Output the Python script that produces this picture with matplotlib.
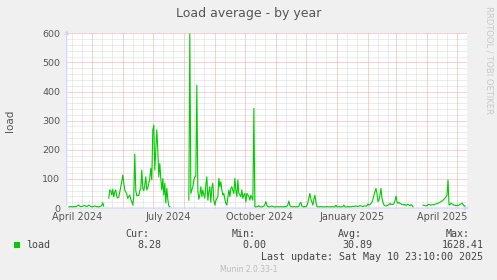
import pandas as pd
import matplotlib
matplotlib.use('Agg')
import matplotlib.pyplot as plt
from matplotlib.patches import Rectangle

# daily load averages, split where munin has no data
seg1_start = '2024-04-08'
seg1 = [4, 4, 5, 4, 4, 5, 4, 5, 6, 8, 10, 7, 5, 5, 6, 8, 9, 6, 5, 7,
        10, 8, 5, 4, 5, 6, 7, 6, 5, 4, 4, 5, 6, 9, 18, 6]

seg2_start = '2024-05-18'
seg2 = [34, 62, 60, 45, 64, 38, 55, 62, 40, 34, 38, 55, 73, 90, 113, 85, 62, 55, 48, 33,
        40, 44, 30, 22, 10, 40, 185, 60, 42, 44, 42, 60, 67, 130, 67, 60, 79, 107, 62, 70,
        85, 102, 136, 96, 268, 285, 130, 200, 268, 199, 107, 153, 100, 62, 101, 44, 85, 17, 68, 30,
        7, 4]

seg3_start = '2024-08-06'
seg3 = [27, 598, 50, 62, 73, 96, 107, 110, 422, 60, 30, 45, 73, 39, 62, 45, 34, 79, 107, 27,
        55, 73, 20, 70, 85, 27, 10, 25, 33, 39, 102, 73, 90, 62, 44, 50, 30, 16, 10, 35,
        62, 39, 67, 73, 60, 50, 102, 60, 39, 96, 50, 45, 39, 62, 33, 45, 50, 21, 50, 45,
        39, 27, 44, 35, 27, 342, 4,
        4, 4, 5, 8, 4, 4, 4, 5, 6,
        12, 22, 10, 5, 4, 4, 5, 7, 5, 4,
        4, 4, 4, 5, 4, 4, 5, 4, 4, 4,
        5, 4, 6, 12, 24, 8, 5, 4, 4, 5,
        4, 4, 5, 4, 6, 16, 19, 6, 4, 4,
        5, 4, 8, 20, 35, 50, 30, 20, 10, 30,
        44, 20, 5, 4, 4, 4, 5, 4, 4, 4,
        4, 4, 5, 4, 4, 4, 4, 5, 4, 4,
        4, 10, 4, 4, 5, 4, 4, 4, 5, 10,
        4, 4, 4, 5, 4, 4, 4, 5, 6, 5,
        6, 7, 6, 5, 6, 8, 7, 6, 5, 7,
        7, 6, 8, 14, 10, 12, 16, 20, 30, 45,
        56, 67, 50, 22, 27, 45, 67, 34, 20, 10,
        8, 7, 8, 10, 12, 16, 12, 14, 12, 15,
        25, 41, 22, 16, 19, 16, 14, 12, 13, 10,
        12, 9, 11, 13, 10, 8, 12, 9, 4]

seg4_start = '2025-03-28'
seg4 = [10, 9, 8, 7, 9, 11, 13, 11, 10, 11, 12, 11, 13, 14, 15, 16, 18, 20, 22, 24,
        27, 30, 34, 38, 45, 96, 10, 12, 17, 14, 12, 10, 9, 7, 9, 10, 9, 12, 14, 17,
        12, 7, 8]

tick_dates = ['2024-04-16', '2024-07-16', '2024-10-16', '2025-01-16', '2025-04-16']
tick_labels = ['April 2024', 'July 2024', 'October 2024', 'January 2025', 'April 2025']

W, H = 497, 280


def fx(x):
    return x / W


def fy(y):
    return 1 - y / H


fig = plt.figure(figsize=(W / 100, H / 100), dpi=100)
fig.patch.set_facecolor('#F0F0F0')
ax = fig.add_axes([fx(66.7), 72 / H, 400.3 / W, 174.7 / H])
ax.set_facecolor('white')
for s in ax.spines.values():
    s.set_visible(False)

t0 = pd.Timestamp('2024-04-05 23:10')
t1 = pd.Timestamp('2025-05-10 23:10')
ax.set_xlim(t0, t1)
ax.set_ylim(0, 600)

grey = '#DADADA'
red = '#F5A5A5'
gkw = dict(lw=0.72, ls=(0, (1, 1)), zorder=1, clip_on=False)
for d in pd.date_range('2024-04-01', '2025-05-31', freq='D'):
    if d.day in (11, 21) and t0 < d < t1:
        ax.axvline(d, color=grey, **gkw)
for v in range(20, 601, 20):
    if v % 100:
        ax.axhline(v, color=grey, **gkw)
for d in pd.date_range('2024-05-01', '2025-05-01', freq='MS'):
    ax.axvline(d, color=red, **gkw)
for v in range(100, 601, 100):
    ax.axhline(v, color=red, **gkw)

# axes with arrows
axis_c = '#CFD6F8'
ax.annotate('', xy=(0, 1.035), xytext=(0, 0), xycoords='axes fraction',
            arrowprops=dict(arrowstyle='-|>', color=axis_c, lw=0.8, mutation_scale=6))
ax.annotate('', xy=(1.012, 0), xytext=(0, 0), xycoords='axes fraction',
            arrowprops=dict(arrowstyle='-|>', color=axis_c, lw=0.8, mutation_scale=6))

for start, vals in [(seg1_start, seg1), (seg2_start, seg2), (seg3_start, seg3), (seg4_start, seg4)]:
    dates = pd.date_range(start, periods=len(vals), freq='D')
    ax.plot(dates, vals, color='#00CC00', lw=0.8, zorder=3)

ax.set_xticks(pd.to_datetime(tick_dates))
ax.set_xticklabels(tick_labels)
ax.set_yticks(range(0, 601, 100))
ax.tick_params(axis='x', length=0, pad=3.2, labelsize=7, labelcolor='#555555')
ax.tick_params(axis='y', length=0, pad=4.8, labelsize=6.8, labelcolor='#555555')

fig.text(fx(248.7), fy(14), 'Load average - by year', ha='center', va='center',
         fontsize=9, color='#555555')
fig.text(fx(10), fy(121), 'load', rotation=90, ha='center', va='center',
         fontsize=7.5, color='#555555')
fig.text(fx(489), fy(6), 'RRDTOOL / TOBI OETIKER', rotation=-90, ha='center', va='top',
         fontsize=6, color='#C8C8C8')

# legend block
mono = dict(family='DejaVu Sans Mono', fontsize=7.2, color='#444444', va='center')
fig.add_artist(Rectangle((fx(14), fy(247.5)), 6 / W, 6 / H, transform=fig.transFigure,
                         color='#00CC00', lw=0))
fig.text(fx(26), fy(245.3), 'load', ha='left', **mono)
for name, xr, val, xv in [('Cur:', 149.3, '8.28', 161), ('Min:', 256, '0.00', 266.7),
                          ('Avg:', 362.3, '30.89', 372.3), ('Max:', 469.3, '1628.41', 483.3)]:
    fig.text(fx(xr), fy(233.7), name, ha='right', **mono)
    fig.text(fx(xv), fy(245.3), val, ha='right', **mono)
fig.text(fx(483.3), fy(257.5), 'Last update: Sat May 10 23:10:00 2025', ha='right', **mono)
fig.text(fx(248.7), fy(269.3), 'Munin 2.0.33-1', ha='center', va='center',
         fontsize=5.5, color='#BBBBBB')

fig.savefig('out.png', dpi=100, facecolor=fig.get_facecolor())
